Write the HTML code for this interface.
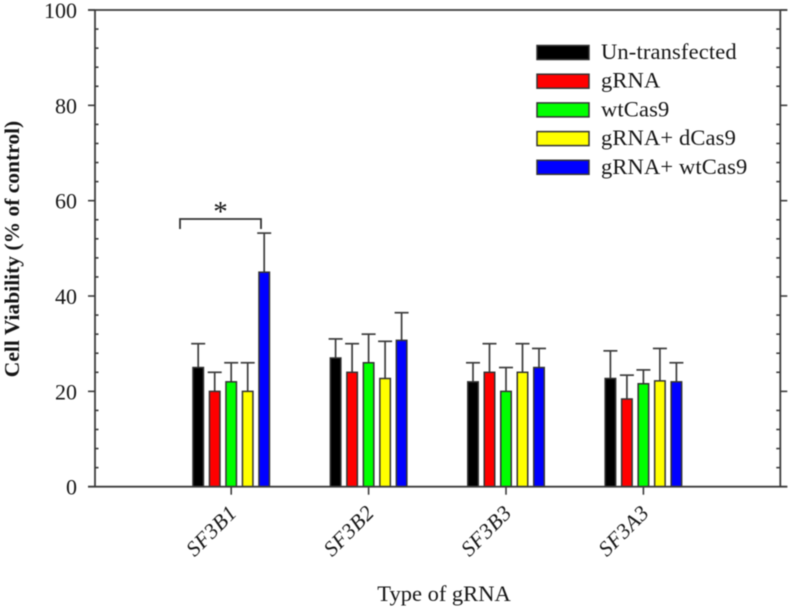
<!DOCTYPE html>
<html>
<head>
<meta charset="utf-8">
<title>Cell viability by gRNA type</title>
<style>
html,body{margin:0;padding:0;background:#fff;width:791px;height:610px;overflow:hidden}
svg{display:block;filter:blur(0.45px)}
text{font-family:"Liberation Serif",serif;fill:#151515}
</style>
</head>
<body>
<svg id="chart" width="791" height="610" viewBox="0 0 791 610" xmlns="http://www.w3.org/2000/svg"></svg>
<script>
const categories = ["SF3B1", "SF3B2", "SF3B3", "SF3A3"];
const seriesNames = ["Un-transfected", "gRNA", "wtCas9", "gRNA+ dCas9", "gRNA+ wtCas9"];
const seriesColors = ["#000000", "#ff0000", "#00ff00", "#ffff00", "#0000ff"];
const untransfected = [25, 27, 22, 22.7];
const gRNA = [20, 24, 24, 18.4];
const wtCas9 = [22, 26, 20, 21.6];
const gRNAdCas9 = [20, 22.7, 24, 22.2];
const gRNAwtCas9 = [45, 30.7, 25, 22];
const untransfectedTop = [30, 31, 26, 28.5];
const gRNATop = [24, 30, 30, 23.4];
const wtCas9Top = [26, 32, 25, 24.5];
const gRNAdCas9Top = [26, 30.5, 30, 29];
const gRNAwtCas9Top = [53.2, 36.5, 29, 26];
const yTickLabels = [0, 20, 40, 60, 80, 100];
const yMinorStep = 4;

const seriesValues = [untransfected, gRNA, wtCas9, gRNAdCas9, gRNAwtCas9];
const seriesTops = [untransfectedTop, gRNATop, wtCas9Top, gRNAdCas9Top, gRNAwtCas9Top];

const svg = document.getElementById('chart');
const NS = 'http://www.w3.org/2000/svg';
const axisColor = '#3c3c3c';
const plotLeft = 95, plotRight = 780.3, plotBottom = 486.7, plotTop = 10;
const yScale = v => plotBottom - v * (plotBottom - plotTop) / 100;
const xScale = i => 231.2 + i * 137.4;
const barX = (i, s) => xScale(i) + (s - 2) * 16.5;
const barWidth = 10.5;

function make(tag, attrs, parent) {
  const el = document.createElementNS(NS, tag);
  for (const k in attrs) el.setAttribute(k, attrs[k]);
  (parent || svg).appendChild(el);
  return el;
}
function line(x1, y1, x2, y2, w, parent, color) {
  return make('line', {x1, y1, x2, y2, stroke: color || axisColor, 'stroke-width': w}, parent);
}

/* y axes */
const yAxisLeft = make('g', {});


const yAxisRight = make('g', {});


line(plotLeft, plotTop, plotLeft, plotBottom, 1.8, yAxisLeft);
line(plotRight, plotTop, plotRight, plotBottom, 1.8, yAxisRight);
for (let v = 0; v <= 100; v += yMinorStep) {
  if (v % 20 === 0) continue;
  line(plotLeft, yScale(v), plotLeft + 3.5, yScale(v), 1.6, yAxisLeft);
  line(plotRight - 4, yScale(v), plotRight, yScale(v), 1.6, yAxisRight);
}
yTickLabels.forEach(v => {
  line(plotLeft - 7, yScale(v), plotLeft, yScale(v), 1.6, yAxisLeft);
  line(plotRight, yScale(v), plotRight + 7, yScale(v), 1.6, yAxisRight);
  const t = make('text', {x: 77, y: yScale(v) + 8, 'text-anchor': 'end', 'font-size': 22}, yAxisLeft);
  
  
  t.textContent = v;
});

/* top line */
const topLine = line(plotLeft - 7, plotTop, plotRight + 7, plotTop, 1.7);



/* bars and error bars */
seriesValues.forEach((vals, s) => {
  const g = make('g', {});
  
  
  vals.forEach((v, i) => {
    const cx = barX(i, s);
    const err = make('g', {}, g);
    
    
    line(cx, yScale(seriesTops[s][i]), cx, yScale(v), 1.7, err);
    line(cx - 7, yScale(seriesTops[s][i]), cx + 7, yScale(seriesTops[s][i]), 1.7, err);
    const r = make('rect', {
      x: cx - barWidth / 2, y: yScale(v), width: barWidth, height: plotBottom - yScale(v),
      fill: seriesColors[s], stroke: '#333', 'stroke-width': 1.5
    }, g);
    
    
  });
});

/* x axis */
const xAxis = make('g', {});


line(plotLeft - 7, plotBottom, plotRight + 7, plotBottom, 1.9, xAxis);
categories.forEach((c, i) => {
  line(xScale(i), plotBottom, xScale(i), plotBottom + 8, 1.6, xAxis);
  const tx = xScale(i) + 7, ty = 514;
  const t = make('text', {
    x: tx, y: ty, 'text-anchor': 'end', 'font-size': 21.5, 'font-style': 'italic',
    'letter-spacing': '0.6', transform: 'rotate(-45 ' + tx + ' ' + ty + ')'
  }, xAxis);
  
  
  t.textContent = c;
});

/* legend */
const legend = make('g', {});


const legendRowTop = n => 45.5 + n * 28.7;
seriesNames.forEach((name, s) => {
  const row = make('g', {}, legend);
  
  
  make('rect', {
    x: 537, y: legendRowTop(s), width: 52, height: 14,
    fill: seriesColors[s], stroke: '#333', 'stroke-width': 1.5
  }, row);
  const t = make('text', {x: 601, y: legendRowTop(s) + 13.5, 'font-size': 22.5, 'letter-spacing': '0.15'}, row);
  t.textContent = name;
});
</script>
<!-- static annotations -->
<script>
(function () {
  const b = make('g', {});
  
  
  make('path', {d: 'M180 229 V219 H261 V229', fill: 'none', stroke: '#333', 'stroke-width': 1.8}, b);
  const star = make('text', {x: 220.5, y: 221, 'text-anchor': 'middle', 'font-size': 29}, b);
  
  
  star.textContent = '*';

  const xt = make('text', {x: 444, y: 601, 'text-anchor': 'middle', 'font-size': 22.5});
  
  
  xt.textContent = 'Type of gRNA';

  const yt = make('text', {
    x: 19, y: 249, 'text-anchor': 'middle', 'font-size': 21.5, 'font-weight': 'bold',
    transform: 'rotate(-90 19 249)'
  });
  
  
  yt.textContent = 'Cell Viability (% of control)';
})();
</script>
</body>
</html>
